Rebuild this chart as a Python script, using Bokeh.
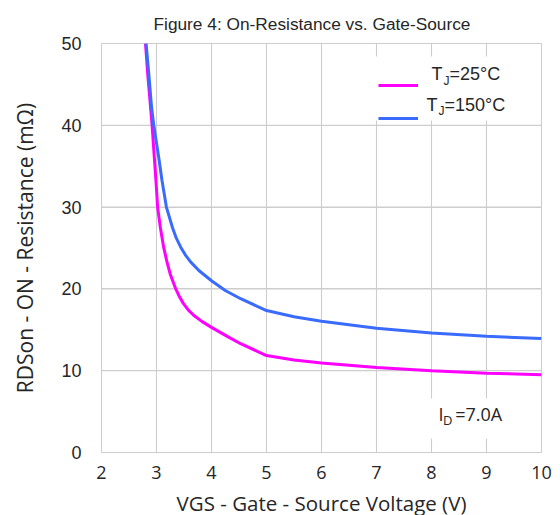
from bokeh.plotting import figure
from bokeh.models import (Range1d, FixedTicker, Label, Legend, LegendItem,
                          BoxAnnotation, Title)
from bokeh.embed import file_html
from bokeh.resources import INLINE

# ---- data ----
vgs_25 = [2.80, 2.84, 2.92, 2.96, 2.99, 3.02, 3.07, 3.13, 3.19, 3.25, 3.35,
          3.42, 3.49, 3.58, 3.68, 3.83, 4.0, 4.31, 4.53, 5.0, 5.5, 6.0, 7.0,
          8.0, 9.0, 10.0]
rds_25 = [50.0, 46.3, 40.0, 36.1, 33.25, 30.0, 27.5, 25.1, 23.3, 21.8, 20.0,
          19.0, 18.2, 17.4, 16.75, 16.0, 15.3, 14.1, 13.3, 11.85, 11.3, 10.95,
          10.4, 10.0, 9.7, 9.5]

vgs_150 = [2.81, 2.86, 2.91, 2.95, 3.04, 3.10, 3.18, 3.29, 3.36, 3.44, 3.53,
           3.62, 3.77, 4.0, 4.25, 4.53, 5.0, 5.5, 6.0, 7.0, 8.0, 9.0, 10.0]
rds_150 = [50.0, 46.3, 42.2, 40.0, 36.1, 33.25, 30.0, 27.5, 26.2, 25.1, 24.1,
           23.3, 22.25, 21.0, 19.8, 18.8, 17.35, 16.6, 16.05, 15.2, 14.6,
           14.2, 13.95]

x_ticks = [2, 3, 4, 5, 6, 7, 8, 9, 10]
y_ticks = [0, 10, 20, 30, 40, 50]

title_text = "Figure 4: On-Resistance vs. Gate-Source"
x_label = "VGS - Gate - Source Voltage (V)"
y_label = "RDSon - ON - Resistance (m\u03a9)"

PINK = "#FF00FF"
BLUE = "#3A6BFF"
GRID = "#cdcdcd"
TEXT = "#262626"

X_MIN, X_MAX = x_ticks[0], x_ticks[-1]
Y_MIN, Y_MAX = y_ticks[0], y_ticks[-1]

p = figure(output_backend="svg", toolbar_location=None,
           x_range=Range1d(X_MIN, X_MAX), y_range=Range1d(Y_MIN, Y_MAX),
           min_border_left=101, min_border_right=19, min_border_top=43,
           min_border_bottom=55, frame_width=440, frame_height=409,
           title=None)

p.add_layout(Title(text=title_text, text_font="Liberation Sans",
                   text_font_size="17.3px", text_font_style="normal",
                   text_color=TEXT, align="left", offset=52,
                   standoff=20), "above")

# axes
for ax in (p.xaxis[0], p.yaxis[0]):
    ax.axis_line_color = None
    ax.major_tick_line_color = None
    ax.minor_tick_line_color = None
    ax.axis_label_text_font = "Open Sans"
    ax.axis_label_text_font_style = "normal"
    ax.axis_label_text_color = TEXT
    ax.major_label_text_color = TEXT

p.xaxis.ticker = FixedTicker(ticks=x_ticks)
p.yaxis.ticker = FixedTicker(ticks=y_ticks)
p.xaxis.axis_label = x_label
p.yaxis.axis_label = y_label
p.xaxis.axis_label_text_font_size = "20.5px"
p.yaxis.axis_label_text_font_size = "21px"
p.xaxis.major_label_text_font = "Open Sans"
p.xaxis.major_label_text_font_size = "18px"
p.xaxis.major_label_standoff = 7
p.xaxis.axis_label_standoff = 7
p.yaxis.major_label_text_font = "Liberation Sans"
p.yaxis.major_label_text_font_size = "18px"
p.yaxis.major_label_standoff = 14
p.yaxis.axis_label_standoff = 19

# grid (built-in) plus thin filled bars at the tick positions
p.xgrid.ticker = FixedTicker(ticks=x_ticks)
p.ygrid.ticker = FixedTicker(ticks=y_ticks)
p.xgrid.grid_line_color = GRID
p.ygrid.grid_line_color = GRID
p.outline_line_color = GRID
p.background_fill_color = "white"
p.border_fill_color = "white"

p.vbar(x=x_ticks, width=0.02, bottom=Y_MIN, top=Y_MAX,
       fill_color=GRID, line_color=None)
p.hbar(y=y_ticks, height=0.13, left=X_MIN, right=X_MAX,
       fill_color=GRID, line_color=None)

r25 = p.line(vgs_25, rds_25, line_color=PINK, line_width=3)
r150 = p.line(vgs_150, rds_150, line_color=BLUE, line_width=3)

# white boxes hiding the grid behind the legend and the I_D note
p.add_layout(BoxAnnotation(left=6.89, right=9.91, bottom=40.6, top=48.4,
                           fill_color="white", fill_alpha=1.0,
                           line_color=None, level="annotation"))
p.add_layout(BoxAnnotation(left=7.8, right=9.84, bottom=1.7, top=6.6,
                           fill_color="white", fill_alpha=1.0,
                           line_color=None, level="annotation"))

# legend (lines); texts drawn as labels for subscripts
legend = Legend(items=[LegendItem(label=" ", renderers=[r25]),
                       LegendItem(label=" ", renderers=[r150])],
                location=(277, 324), orientation="vertical",
                glyph_width=40, glyph_height=20, label_height=20,
                label_width=105, label_standoff=5, spacing=13, padding=8,
                margin=0, border_line_color=None,
                background_fill_alpha=0.0,
                label_text_font_size="13px")
p.add_layout(legend)


def add_sub_label(x_main, x_sub, x_rest, y, dy, main, sub, rest, font,
                  size, subsize):
    p.add_layout(Label(x=x_main, y=y, text=main, text_font=font,
                       text_font_size=size, text_color=TEXT))
    p.add_layout(Label(x=x_sub, y=y - dy, text=sub, text_font=font,
                       text_font_size=subsize, text_color=TEXT))
    p.add_layout(Label(x=x_rest, y=y, text=rest, text_font=font,
                       text_font_size=size, text_color=TEXT))


add_sub_label(8.0, 8.218, 8.327, 45.07, 0.45, "T", "J", "=25\u00b0C",
              "Liberation Sans", "18px", "12px")
add_sub_label(7.909, 8.127, 8.236, 41.3, 0.45, "T", "J", "=150\u00b0C",
              "Liberation Sans", "18px", "12px")

add_sub_label(8.127, 8.21, 8.43, 3.3, 0.4, "I", "D", "=7.0A",
              "Open Sans", "18px", "13px")

open("out.html", "w").write(file_html(p, INLINE))
